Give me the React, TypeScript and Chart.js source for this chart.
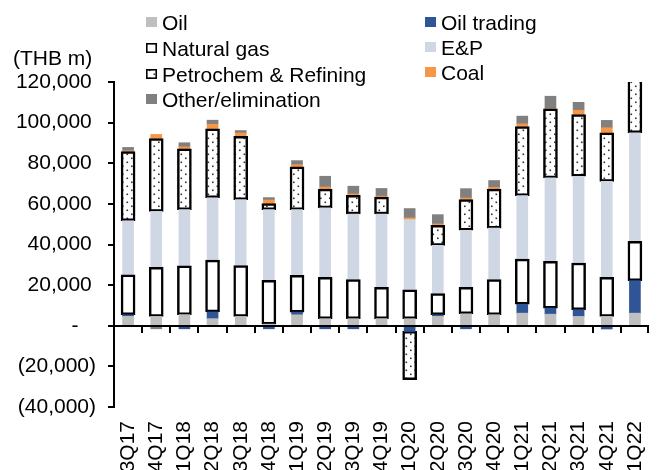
import React, { useEffect, useRef } from 'react';
import { Chart, registerables } from 'chart.js';
Chart.register(...registerables);

const categories = ['3Q17', '4Q17', '1Q18', '2Q18', '3Q18', '4Q18', '1Q19', '2Q19', '3Q19', '4Q19', '1Q20', '2Q20', '3Q20', '4Q20', '1Q21', '2Q21', '3Q21', '4Q21', '1Q22'];
const oil = [4600, 4600, 5500, 3500, 4600, 800, 5400, 3500, 3500, 3500, 3500, 4600, 5900, 5400, 6200, 5700, 4600, 4600, 6200];
const oilTrading = [800, 0, -1500, 3300, 0, -1500, 1300, -1500, -1500, 0, -2800, 800, -1500, 0, 4400, 3000, 3300, -1600, 16000];
const naturalGas = [19700, 24100, 24000, 25500, 25000, 21500, 18100, 20300, 19200, 15400, 14200, 10400, 13000, 17300, 22200, 23000, 23000, 19200, 19400];
const eAndP = [26600, 27600, 27700, 30700, 32500, 34900, 32400, 34200, 32300, 36100, 34600, 23800, 28100, 25400, 31300, 41100, 42700, 47300, 53400];
const petrochem = [34000, 35900, 29900, 34000, 31200, 2900, 21000, 9300, 9200, 8300, -23700, 9800, 15100, 19200, 34000, 34000, 30400, 23900, 33000];
const coal = [500, 2000, 1000, 2200, 1600, 1800, 1100, 1000, 700, 500, 800, 700, 800, 800, 1300, 0, 2100, 2500, 1500];
const other = [1600, -1500, 2000, 2000, 1200, 1200, 2000, 5300, 3800, 3800, 4600, 4600, 4600, 3400, 3800, 6200, 3900, 3600, 2000];

const seriesNames = ['Oil', 'Oil trading', 'Natural gas', 'E&P', 'Petrochem & Refining', 'Coal', 'Other/elimination'];
const yMin = -40000;
const yMax = 120000;
const yStep = 20000;
const yTitle = '(THB m)';

const FONT = "'Liberation Sans', Arial, sans-serif";

function makeDots(): CanvasPattern | string {
  const c = document.createElement('canvas');
  c.width = 9;
  c.height = 8;
  const g = c.getContext('2d');
  if (!g) return '#fff';
  g.fillStyle = '#ffffff';
  g.fillRect(0, 0, 9, 8);
  g.fillStyle = '#333333';
  g.fillRect(1.5, 1.5, 1.6, 1.6);
  g.fillRect(6, 5.5, 1.6, 1.6);
  return g.createPattern(c, 'repeat') || '#fff';
}

export default function App() {
  const ref = useRef<HTMLCanvasElement | null>(null);

  useEffect(() => {
    document.documentElement.style.overflow = 'hidden';
    const canvas = ref.current;
    if (!canvas) return;
    const dots = makeDots();
    const fills = ['#BFBFBF', '#2F5597', '#FFFFFF', '#D0D7E4', dots, '#F79646', '#808080'];
    const bordered = [false, false, true, false, true, false, false];
    const values = [oil, oilTrading, naturalGas, eAndP, petrochem, coal, other];

    const legendPlugin = {
      id: 'customLegend',
      afterDraw(chart: any) {
        const ctx = chart.ctx;
        ctx.save();
        ctx.font = `21px ${FONT}`;
        ctx.fillStyle = '#000';
        ctx.textBaseline = 'alphabetic';
        ctx.textAlign = 'left';
        ctx.fillText(yTitle, 5, 57);
        const items = [
          { i: 0, x: 138, y: 22 },
          { i: 2, x: 138, y: 48 },
          { i: 4, x: 138, y: 74 },
          { i: 6, x: 138, y: 99 },
          { i: 1, x: 417, y: 22 },
          { i: 3, x: 417, y: 47 },
          { i: 5, x: 417, y: 72 },
        ];
        for (const it of items) {
          const sx = it.x;
          const sy = it.y - 13;
          ctx.fillStyle = fills[it.i];
          ctx.fillRect(sx, sy, 11, 10);
          if (bordered[it.i]) {
            ctx.strokeStyle = '#000';
            ctx.lineWidth = 1.6;
            ctx.strokeRect(sx + 0.8, sy + 0.8, 9.4, 8.4);
          }
          ctx.fillStyle = '#000';
          ctx.fillText(seriesNames[it.i], sx + 16, it.y);
        }
        ctx.restore();
      },
    };

    const zeroLinePlugin = {
      id: 'zeroLine',
      afterDatasetsDraw(chart: any) {
        const { ctx, chartArea } = chart;
        const ys = chart.scales.y;
        const y0 = Math.round(ys.getPixelForValue(0));
        const n = categories.length;
        const w = (chartArea.right - chartArea.left) / n;
        ctx.save();
        ctx.strokeStyle = '#000';
        ctx.lineWidth = 2;
        ctx.beginPath();
        ctx.moveTo(chartArea.left, y0);
        ctx.lineTo(chartArea.right, y0);
        for (let i = 1; i <= n; i++) {
          const px = Math.round(chartArea.left + i * w) - (i === n ? 1 : 0);
          ctx.moveTo(px, y0);
          ctx.lineTo(px, y0 + 7);
        }
        ctx.stroke();
        ctx.restore();
      },
    };

    const chart = new Chart(canvas, {
      type: 'bar',
      data: {
        labels: categories,
        datasets: values.map((v, i) => ({
          label: seriesNames[i],
          data: v,
          backgroundColor: fills[i] as any,
          borderColor: '#000',
          borderWidth: bordered[i] ? 2.5 : 0,
          borderSkipped: false,
          barThickness: bordered[i] ? 14 : 11,
          clip: { top: 0, bottom: false, left: false, right: false } as any,
        })),
      },
      options: {
        animation: false,
        responsive: true,
        maintainAspectRatio: false,
        layout: { padding: { top: 74, left: 0, right: 0, bottom: 0 } },
        plugins: {
          legend: { display: false },
          tooltip: { enabled: false },
        },
        scales: {
          x: {
            stacked: true,
            offset: true,
            border: { display: false },
            grid: { display: false, drawTicks: false },
            ticks: {
              font: { family: FONT, size: 21 },
              color: '#000',
              minRotation: 90,
              maxRotation: 90,
              autoSkip: false,
              padding: 14,
            },
            afterFit(scale: any) {
              scale.height = 63;
              scale.paddingLeft = 0;
              scale.paddingRight = 0;
            },
          },
          y: {
            stacked: true,
            min: yMin,
            max: yMax,
            border: { display: true, color: '#000', width: 2 },
            grid: {
              drawOnChartArea: false,
              drawTicks: true,
              tickLength: 6,
              color: '#000',
              lineWidth: 2,
            },
            ticks: {
              stepSize: yStep,
              font: { family: FONT, size: 21 },
              color: '#000',
              padding: 12,
              callback: (val: any) => {
                const v = Number(val);
                if (v === 0) return '-   ';
                const s = Math.abs(v).toLocaleString('en-US');
                return v < 0 ? `(${s})` : s + '\u2009';
              },
            },
            afterFit(scale: any) {
              scale.width = 106;
            },
          },
        },
      },
      plugins: [zeroLinePlugin, legendPlugin],
    });
    return () => chart.destroy();
  }, []);

  return (
    <div style={{ position: 'relative', width: '641px', height: '462px' }}>
      <canvas ref={ref} />
    </div>
  );
}
